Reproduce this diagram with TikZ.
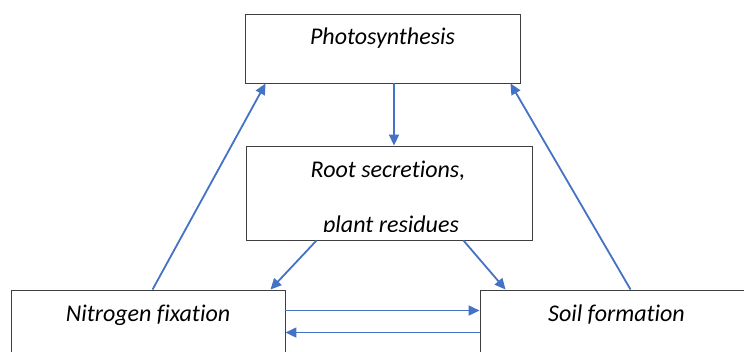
\documentclass[tikz,border=0pt]{standalone}
\usepackage{fontspec}
\setmainfont{Carlito}[Ligatures={NoCommon,NoContextual,NoRequired}]
\usetikzlibrary{arrows.meta}
\definecolor{arrblue}{HTML}{4472C4}
\definecolor{boxgray}{HTML}{3F3F3F}
\newcommand{\nolig}{\kern0pt }
\tikzset{
  box/.style={draw=boxgray, line width=0.9pt, rectangle, inner sep=0pt, fill=white},
  lbl/.style={anchor=base, inner sep=0pt, font=\fontsize{24}{28}\selectfont\itshape},
  conn/.style={draw=arrblue, line width=1.8pt, -{Triangle[length=11pt,width=10pt]}}
}
\begin{document}
\begin{tikzpicture}[x=1pt,y=-1pt]
\useasboundingbox (0,0) rectangle (744,352);
\clip (0,0) rectangle (744,352);
% boxes
\node[box, minimum width=275pt, minimum height=69pt] (photo) at (382.5,48.5) {};
\node[box, minimum width=286pt, minimum height=94pt] (root) at (389,193) {};
\node[box, minimum width=274pt, minimum height=80pt] (nitro) at (148,330) {};
\node[box, minimum width=273pt, minimum height=80pt] (soil) at (616.5,330) {};
% texts
\node[lbl] (tphoto) at (382.5,45) {Photosynthesis};
\node[lbl] (troot1) at (388,178) {Root secret\nolig ions,};
\begin{scope}
\clip (250,200) rectangle (530,232);
\node[lbl] (troot2) at (391,233) {plant residues};
\end{scope}
\node[lbl] (tnitro) at (148,322) {Nitrogen f\nolig ixat\nolig ion};
\node[lbl] (tsoil) at (616.5,322) {Soil format\nolig ion};
% connectors
\draw[conn] ([xshift=11.5pt]photo.south) -- ([xshift=5pt]root.north);
\draw[conn] ([xshift=142pt]nitro.north west) -- ([xshift=21pt]photo.south west);
\draw[conn] ([xshift=151pt]soil.north west) -- ([xshift=-10pt]photo.south east);
\draw[conn] ([xshift=71pt]root.south west) -- ([xshift=-15pt]nitro.north east);
\draw[conn] ([xshift=-69pt]root.south east) -- ([xshift=26pt]soil.north west);
\draw[conn] ([yshift=-21pt]nitro.north east) -- ([yshift=-21pt]soil.north west);
\draw[conn] ([yshift=-43pt]soil.north west) -- ([yshift=-43pt]nitro.north east);
\end{tikzpicture}
\end{document}
